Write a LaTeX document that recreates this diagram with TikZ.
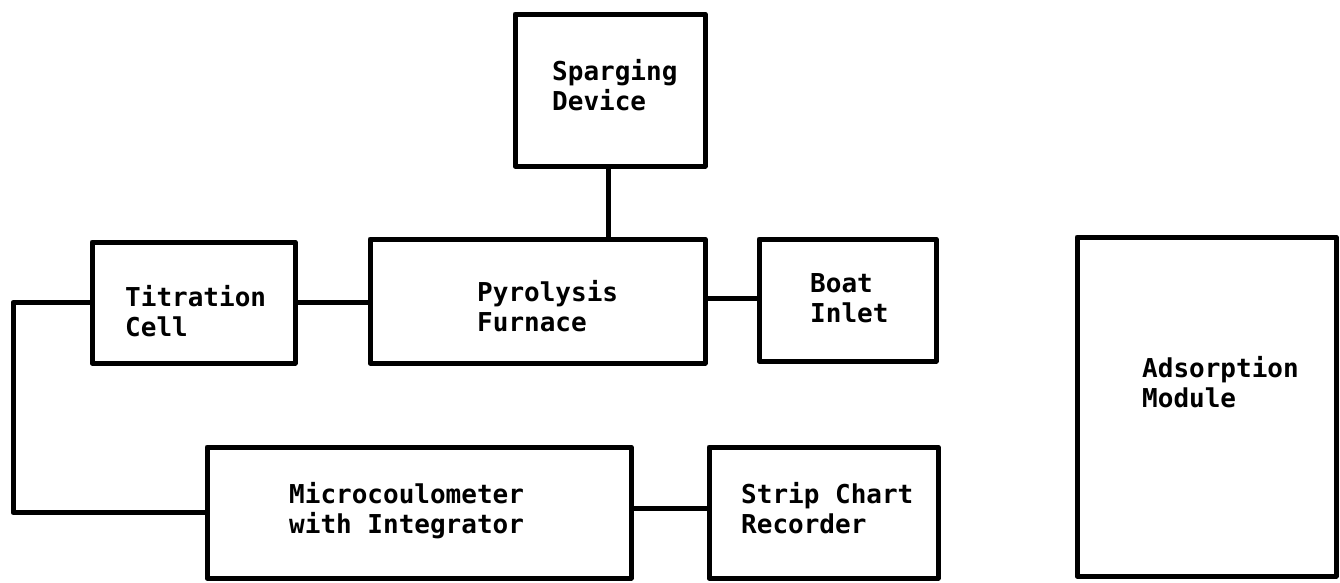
\documentclass[tikz,border=0pt]{standalone}
\usepackage{fontspec}
\setmonofont{DejaVu Sans Mono}
\begin{document}
\begin{tikzpicture}[x=1pt,y=-1pt,
  box/.style={draw, line width=5pt, inner sep=0, rectangle, line join=round},
  wire/.style={line width=5pt, line join=round},
  lbl/.style={font=\ttfamily\bfseries\fontsize{26}{30}\selectfont, align=left, anchor=west, inner sep=0}]
\useasboundingbox (0,0) rectangle (1340,582);
% boxes
\node[box, minimum width=190pt, minimum height=152pt] (spar) at (610,90) {};
\node[box, minimum width=203pt, minimum height=121pt] (tit) at (193.5,302.5) {};
\node[box, minimum width=335pt, minimum height=124pt] (pyro) at (537.5,301) {};
\node[box, minimum width=177pt, minimum height=122pt] (boat) at (847.5,300) {};
\node[box, minimum width=424pt, minimum height=131pt] (micro) at (419,512.5) {};
\node[box, minimum width=229pt, minimum height=131pt] (strip) at (823.5,512.5) {};
\node[box, minimum width=259pt, minimum height=339pt] (ads) at (1206.5,406.5) {};
% labels
\node[lbl] (tspar) at (552,85) {Sparging\\Device};
\node[lbl] (ttit) at (125,311) {Titration\\Cell};
\node[lbl] (tpyro) at (477,306) {Pyrolysis\\Furnace};
\node[lbl] (tboat) at (810,298) {Boat\\Inlet};
\node[lbl] (tmicro) at (289,511) {Microcoulometer\\with Integrator};
\node[lbl] (tstrip) at (741,508) {Strip Chart\\Recorder};
\node[lbl] (tads) at (1142,382) {Adsorption\\Module};
% connectors
\coordinate (lft) at (13,303);
\draw[wire] ([xshift=-2pt]spar.south) -- ([xshift=-2pt]spar.south |- pyro.north);
\draw[wire] (tit.east) -- (tit.east -| pyro.west);
\draw[wire] ([yshift=3pt]pyro.east) -- ([yshift=3pt]pyro.east -| boat.west);
\draw[wire] (tit.west) -- (tit.west -| lft) |- (micro.west);
\draw[wire] ([yshift=4pt]micro.east) -- ([yshift=4pt]micro.east -| strip.west);
\end{tikzpicture}
\end{document}
